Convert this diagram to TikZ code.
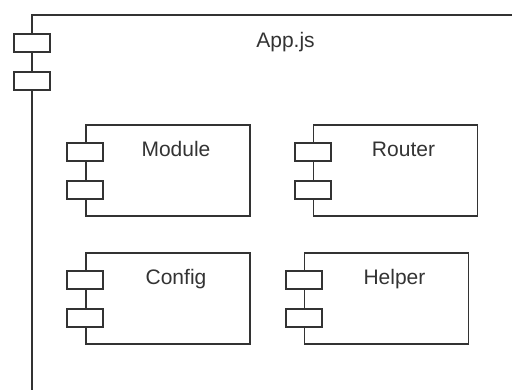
\documentclass[tikz,border=0pt]{standalone}
\usepackage{fontspec}
\setmainfont{Liberation Sans}
\usetikzlibrary{positioning}
\definecolor{ink}{HTML}{333333}

\begin{document}
\begin{tikzpicture}[x=1pt,y=-1pt,
  frame/.style={draw=ink, line width=1.8pt},
  body/.style={frame, fill=white, minimum width=164pt, minimum height=91pt, inner sep=0pt},
  port/.style={frame, fill=white, minimum width=36pt, minimum height=18pt, inner sep=0pt},
  title/.style={text=ink, font=\fontsize{21}{25}\selectfont, anchor=base, inner sep=0pt}]
\useasboundingbox (0,0) rectangle (512,390);
\clip (0,0) rectangle (512,390);

% outer component, runs off the page to the right and bottom
\coordinate (app) at (32,15);
\draw[frame] (app) rectangle (600,500);
\node[port, below=18pt of app] (app-a) {};
\node[port, below=18pt of app-a] (app-b) {};
\node[title] (app-txt) at (285.5,48) {App.js};

% inner components
\foreach \name/\cx/\cy/\txt in {module/168/170.5/Module, router/395.5/170.5/Router,
                                config/168/298.5/Config, helper/386.5/298.5/Helper}{
  \node[body] (\name) at (\cx,\cy) {};
  \node[port, below=18pt of \name.north west] (\name-a) {};
  \node[port, below=18pt of \name-a] (\name-b) {};
  \node[title] (\name-txt) at ([xshift=8pt,yshift=-32pt]\name.north) {\txt};
}
\end{tikzpicture}
\end{document}
